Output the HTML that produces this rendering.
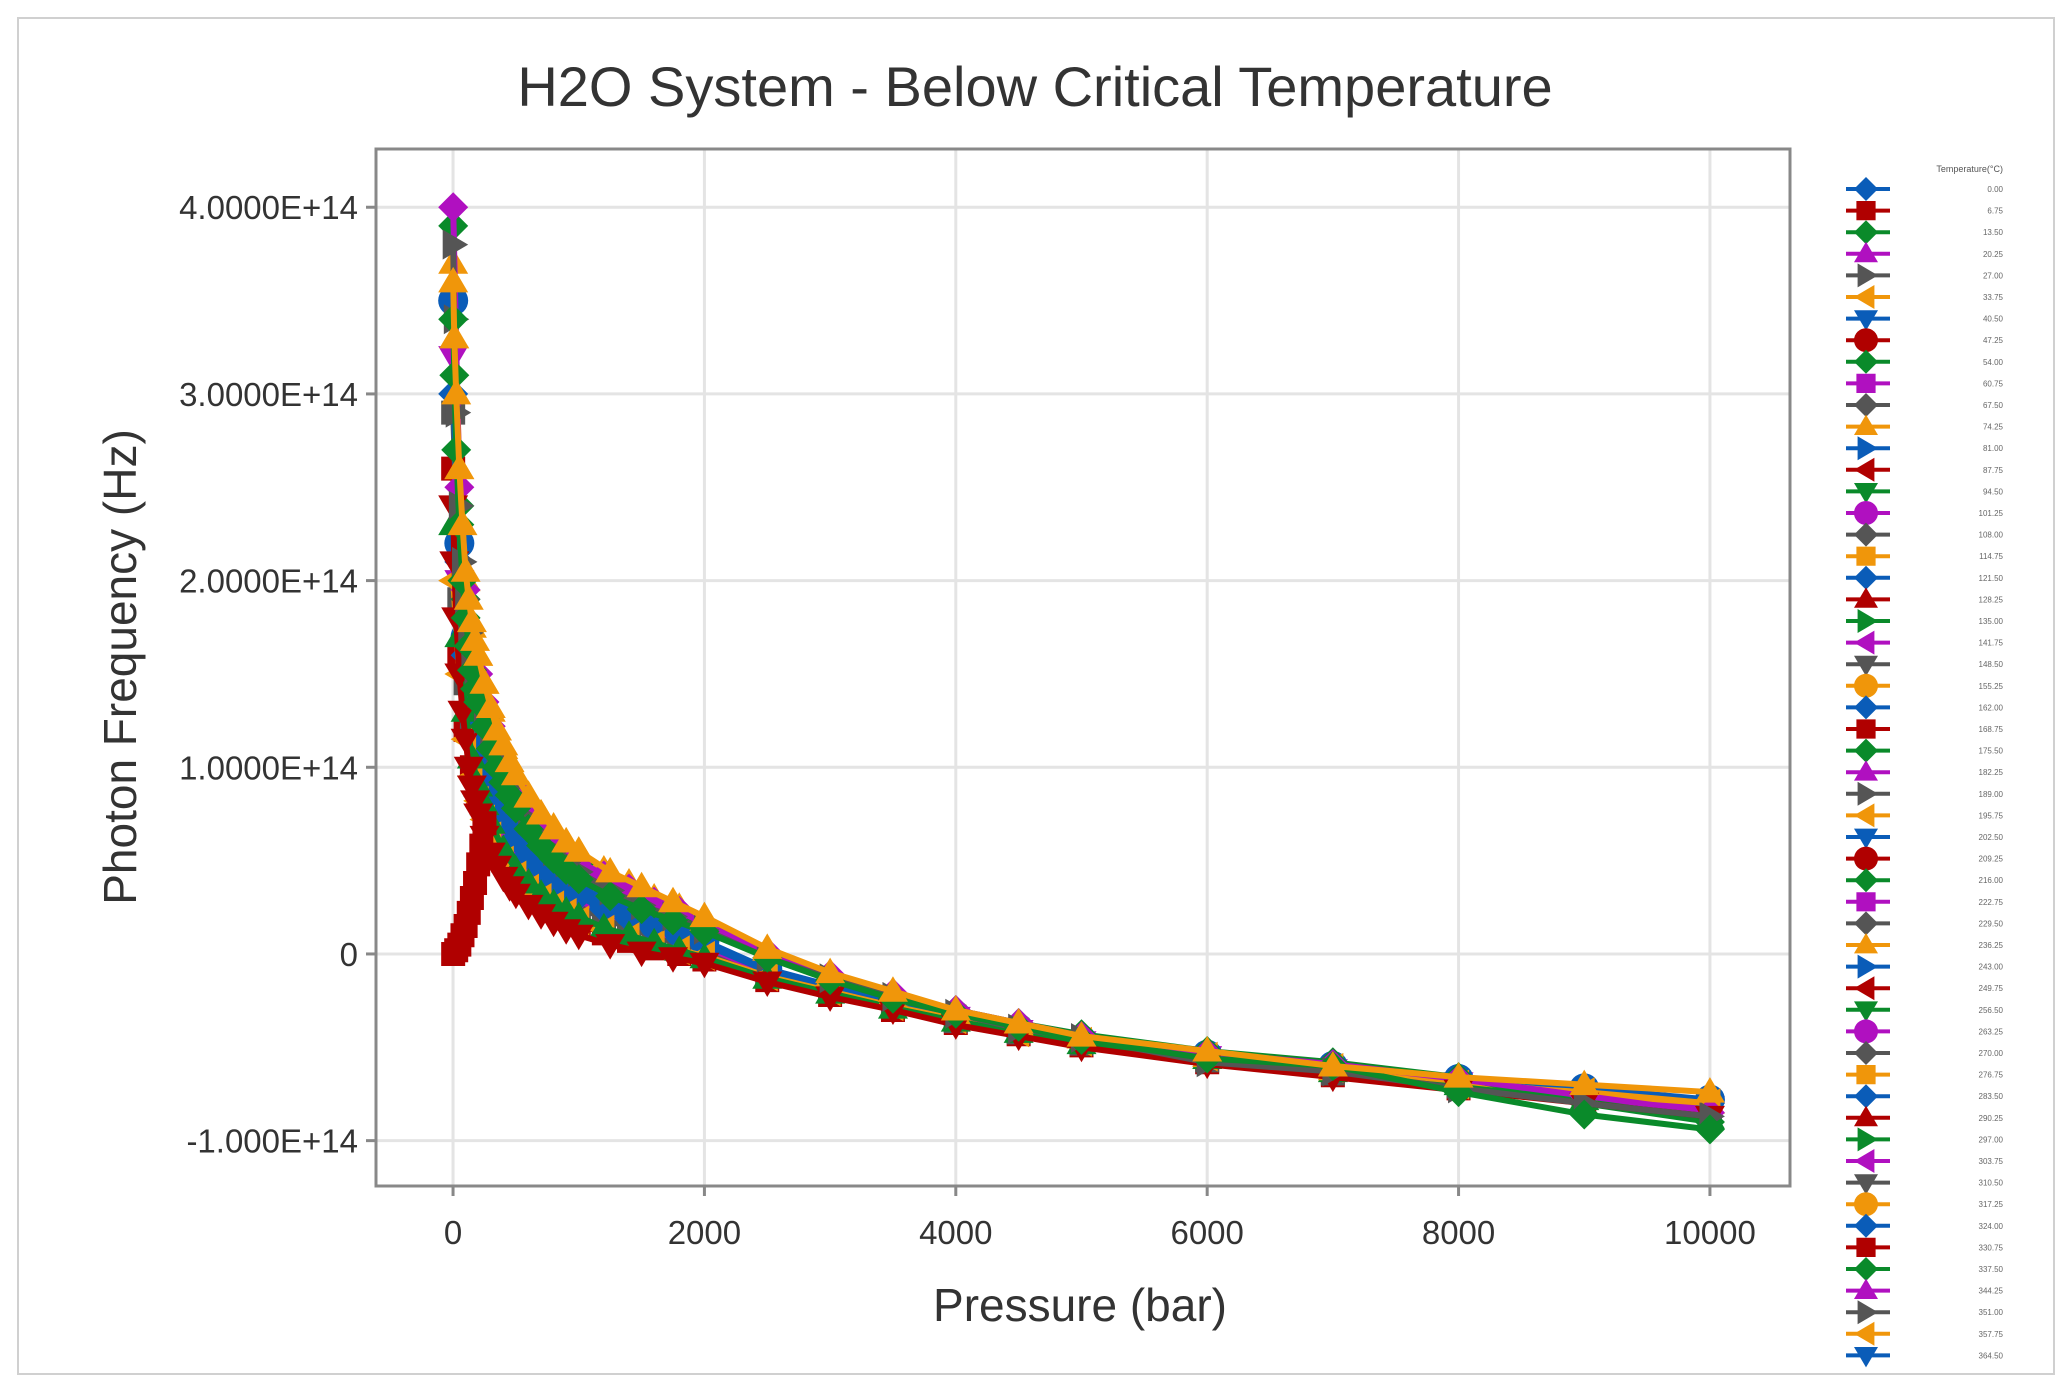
<!DOCTYPE html>
<html><head><meta charset="utf-8"><style>
body{margin:0;background:#fff;}
svg{display:block;font-family:"Liberation Sans",sans-serif;}
</style></head><body>
<svg id="chart" width="2071" height="1389" viewBox="0 0 2071 1389">
<rect x="18" y="18" width="2036" height="1356" fill="#fff" stroke="#d0d0d0" stroke-width="2"/>
<text x="1035" y="106" text-anchor="middle" font-size="56" fill="#333">H2O System - Below Critical Temperature</text>
<g id="grid"></g>
<g id="series"></g>
<rect x="376" y="149" width="1414" height="1037" fill="none" stroke="#888" stroke-width="3"/>
<g id="axes"></g>
<text x="1080" y="1321" text-anchor="middle" font-size="46" fill="#333">Pressure (bar)</text>
<text transform="translate(136,667) rotate(-90)" text-anchor="middle" font-size="46" fill="#333">Photon Frequency (Hz)</text>
<g id="legend"></g>
</svg>
<script>
const pressures=[1,50,100,150,200,250,300,400,500,600,700,800,900,1000,1200,1400,1600,1800,2000,2500,3000,3500,4000,4500,5000,6000,7000,8000,9000,10000];
const sOrange=[3.7,2.6,2.0,1.75,1.6,1.45,1.3,1.1,0.95,0.85,0.75,0.68,0.6,0.55,0.45,0.38,0.3,0.25,0.18,0.02,-0.12,-0.22,-0.32,-0.38,-0.45,-0.55,-0.62,-0.68,-0.75,-0.8];
const sGreen=[3.9,2.4,1.9,1.6,1.45,1.3,1.2,1.0,0.85,0.75,0.66,0.6,0.53,0.48,0.4,0.33,0.27,0.22,0.15,0.0,-0.12,-0.22,-0.3,-0.37,-0.43,-0.52,-0.58,-0.66,-0.8,-0.9];
const sBlue=[3.5,2.2,1.7,1.45,1.3,1.1,1.0,0.85,0.7,0.6,0.52,0.45,0.4,0.35,0.28,0.22,0.16,0.12,0.07,-0.08,-0.17,-0.25,-0.33,-0.4,-0.46,-0.54,-0.6,-0.67,-0.72,-0.78];
const sPurple=[3.2,2.0,1.5,1.25,1.1,0.95,0.85,0.7,0.58,0.5,0.43,0.38,0.33,0.29,0.22,0.17,0.12,0.08,0.04,-0.1,-0.19,-0.27,-0.34,-0.41,-0.47,-0.55,-0.62,-0.69,-0.75,-0.82];
const sGray=[2.9,1.9,1.45,1.2,1.0,0.9,0.8,0.65,0.52,0.45,0.38,0.33,0.28,0.25,0.19,0.14,0.09,0.06,0.02,-0.12,-0.2,-0.28,-0.36,-0.42,-0.48,-0.57,-0.64,-0.71,-0.77,-0.84];
const sRed=[2.6,1.6,1.2,1.0,0.85,0.75,0.65,0.5,0.4,0.33,0.28,0.23,0.19,0.16,0.11,0.07,0.03,0.0,-0.03,-0.14,-0.22,-0.3,-0.37,-0.43,-0.49,-0.58,-0.65,-0.72,-0.79,-0.86];
const sGreen2=[2.3,1.7,1.3,1.05,0.9,0.8,0.7,0.56,0.45,0.38,0.32,0.27,0.23,0.2,0.14,0.1,0.06,0.02,-0.02,-0.13,-0.21,-0.29,-0.36,-0.42,-0.48,-0.56,-0.63,-0.7,-0.78,-0.88];
const sOrange2=[2.0,1.5,1.15,0.95,0.82,0.72,0.63,0.5,0.42,0.35,0.3,0.26,0.22,0.18,0.13,0.09,0.05,0.02,-0.01,-0.12,-0.2,-0.28,-0.35,-0.42,-0.47,-0.55,-0.61,-0.7,-0.74,-0.8];
const sBlue2=[3.0,2.1,1.6,1.3,1.15,1.0,0.9,0.75,0.62,0.53,0.46,0.4,0.35,0.31,0.24,0.19,0.14,0.1,0.05,-0.09,-0.18,-0.26,-0.34,-0.41,-0.46,-0.54,-0.61,-0.68,-0.74,-0.8];
const sPurple2=[4.0,2.5,1.95,1.65,1.5,1.35,1.22,1.02,0.88,0.77,0.68,0.61,0.55,0.5,0.42,0.35,0.28,0.23,0.16,0.01,-0.11,-0.21,-0.3,-0.37,-0.44,-0.53,-0.59,-0.67,-0.76,-0.85];
const pressures2=[1,10,25,50,75,100,125,150,175,200,250,300,350,400,450,500,600,700,800,900,1000,1250,1500,1750,2000,2500,3000,3500,4000,4500,5000,6000,7000,8000,9000,10000];
const sA=[3.6,3.3,3.0,2.6,2.3,2.05,1.9,1.78,1.68,1.6,1.45,1.32,1.2,1.12,1.03,0.96,0.84,0.75,0.67,0.6,0.55,0.44,0.36,0.28,0.2,0.03,-0.1,-0.2,-0.3,-0.37,-0.44,-0.52,-0.6,-0.66,-0.7,-0.74];
const sB=[3.4,3.1,2.7,2.3,2.0,1.8,1.65,1.52,1.42,1.35,1.22,1.1,1.0,0.92,0.85,0.78,0.67,0.58,0.51,0.45,0.4,0.31,0.24,0.18,0.12,-0.02,-0.14,-0.24,-0.32,-0.39,-0.46,-0.56,-0.6,-0.74,-0.86,-0.94];
const sC=[3.8,3.4,2.9,2.4,2.1,1.9,1.72,1.58,1.48,1.4,1.26,1.15,1.05,0.97,0.9,0.83,0.72,0.63,0.55,0.49,0.44,0.34,0.26,0.2,0.13,-0.02,-0.13,-0.23,-0.32,-0.4,-0.45,-0.58,-0.63,-0.72,-0.8,-0.87];
const sD=[2.4,2.1,1.8,1.5,1.3,1.15,1.0,0.9,0.82,0.75,0.63,0.54,0.47,0.41,0.36,0.32,0.26,0.21,0.17,0.13,0.1,0.05,0.01,-0.02,-0.05,-0.15,-0.23,-0.3,-0.38,-0.44,-0.5,-0.59,-0.66,-0.73,-0.8,-0.87];
const redRiseP=[1,25,50,75,100,125,150,175,200,225,250];
const redRiseV=[0,0.02,0.05,0.1,0.15,0.22,0.3,0.38,0.48,0.58,0.7];
const xTicks=[0,2000,4000,6000,8000,10000];
const yTicks=[-1,0,1,2,3,4];
const yTickLabels=["-1.000E+14","0","1.0000E+14","2.0000E+14","3.0000E+14","4.0000E+14"];
const legendLabels=[];
for(let i=0;i<55;i++){legendLabels.push((i*6.75).toFixed(2));}

const NS="http://www.w3.org/2000/svg";
const X0=376,X1=1790,Y0=149,Y1=1186,PMIN=-613,PMAX=10637,VMAX=4.312,VMIN=-1.243;
const xs=p=>X0+(p-PMIN)/(PMAX-PMIN)*(X1-X0);
const ys=v=>Y0+(VMAX-v)/(VMAX-VMIN)*(Y1-Y0);
function mk(tag,attrs,parent){const e=document.createElementNS(NS,tag);for(const k in attrs)e.setAttribute(k,attrs[k]);parent.appendChild(e);return e;}
const grid=document.getElementById('grid'),axes=document.getElementById('axes'),ser=document.getElementById('series'),leg=document.getElementById('legend');
xTicks.forEach(t=>{
  const l=mk('line',{x1:xs(t),x2:xs(t),y1:Y0,y2:Y1,stroke:'#e4e4e4','stroke-width':3},grid);
  
  
  const tk=mk('line',{x1:xs(t),x2:xs(t),y1:Y1,y2:Y1+10,stroke:'#888','stroke-width':3},axes);
  
  
  const tx=mk('text',{x:xs(t),y:1244,'text-anchor':'middle','font-size':33,fill:'#333'},axes);
  tx.textContent=t;
  
  
});
yTicks.forEach((t,i)=>{
  const l=mk('line',{x1:X0,x2:X1,y1:ys(t),y2:ys(t),stroke:'#e4e4e4','stroke-width':3},grid);
  
  
  const tk=mk('line',{x1:X0-10,x2:X0,y1:ys(t),y2:ys(t),stroke:'#888','stroke-width':3},axes);
  
  
  const tx=mk('text',{x:358,y:ys(t)+12,'text-anchor':'end','font-size':33,fill:'#333'},axes);
  tx.textContent=yTickLabels[i];
  
  
});
const colors=['#0a5cb8','#b00000','#0a8a2a','#b010c0','#555555','#f0960a'];
const shapes=['diamond','square','diamond','tri-up','tri-right','tri-left','tri-down','circle'];
function marker(shape,x,y,r,c,parent){
  let d;
  switch(shape){
    case 'diamond':d=`M${x},${y-r}L${x+r},${y}L${x},${y+r}L${x-r},${y}Z`;break;
    case 'square':d=`M${x-r*.8},${y-r*.8}h${r*1.6}v${r*1.6}h${-r*1.6}Z`;break;
    case 'tri-up':d=`M${x},${y-r}L${x+r},${y+r*.7}L${x-r},${y+r*.7}Z`;break;
    case 'tri-down':d=`M${x},${y+r}L${x+r},${y-r*.7}L${x-r},${y-r*.7}Z`;break;
    case 'tri-right':d=`M${x+r},${y}L${x-r*.7},${y-r}L${x-r*.7},${y+r}Z`;break;
    case 'tri-left':d=`M${x-r},${y}L${x+r*.7},${y-r}L${x+r*.7},${y+r}Z`;break;
    default:d=`M${x-r},${y}a${r},${r} 0 1,0 ${2*r},0a${r},${r} 0 1,0 ${-2*r},0`;
  }
  return mk('path',{d:d,fill:c},parent);
}
function drawSeries(P,V,c,sh,idx){
  const g=mk('g',{},ser);
  
  
  const pl=mk('polyline',{points:P.map((p,i)=>xs(p)+','+ys(V[i])).join(' '),fill:'none',stroke:c,'stroke-width':6},g);
  
  
  P.forEach((p,i)=>{
    const m=marker(sh,xs(p),ys(V[i]),15,c,g);
    
    
  });
}
const allSeries=[sRed,sGray,sPurple,sBlue,sBlue2,sOrange2,sGreen2,sOrange,sGreen,sPurple2];
const sColors=['#b00000','#555555','#b010c0','#0a5cb8','#0a5cb8','#f0960a','#0a8a2a','#f0960a','#0a8a2a','#b010c0'];
const sShapes=['square','square','tri-down','circle','diamond','tri-left','tri-up','tri-up','diamond','diamond'];
allSeries.forEach((V,k)=>drawSeries(pressures,V,sColors[k],sShapes[k],k));
const extraSeries=[sD,sC,sB,sA];
const eColors=['#b00000','#555555','#0a8a2a','#f0960a'];
const eShapes=['tri-down','tri-right','diamond','tri-up'];
extraSeries.forEach((V,k)=>drawSeries(pressures2,V,eColors[k],eShapes[k],'extra-'+k));
drawSeries(redRiseP,redRiseV,'#b00000','square','red-rise');
// legend
const lt=mk('text',{x:2003,y:172,'text-anchor':'end','font-size':9,fill:'#555'},leg);
lt.textContent='Temperature(°C)';


legendLabels.forEach((lab,i)=>{
  const y=189+i*21.6,c=colors[i%6],sh=shapes[i%8];
  const g=mk('g',{},leg);
  
  
  mk('line',{x1:1846,x2:1890,y1:y,y2:y,stroke:c,'stroke-width':4},g);
  marker(sh,1866,y,12,c,g);
  const t=mk('text',{x:2003,y:y+3,'text-anchor':'end','font-size':8,fill:'#666'},g);
  t.textContent=lab;
});
</script>
</body></html>
